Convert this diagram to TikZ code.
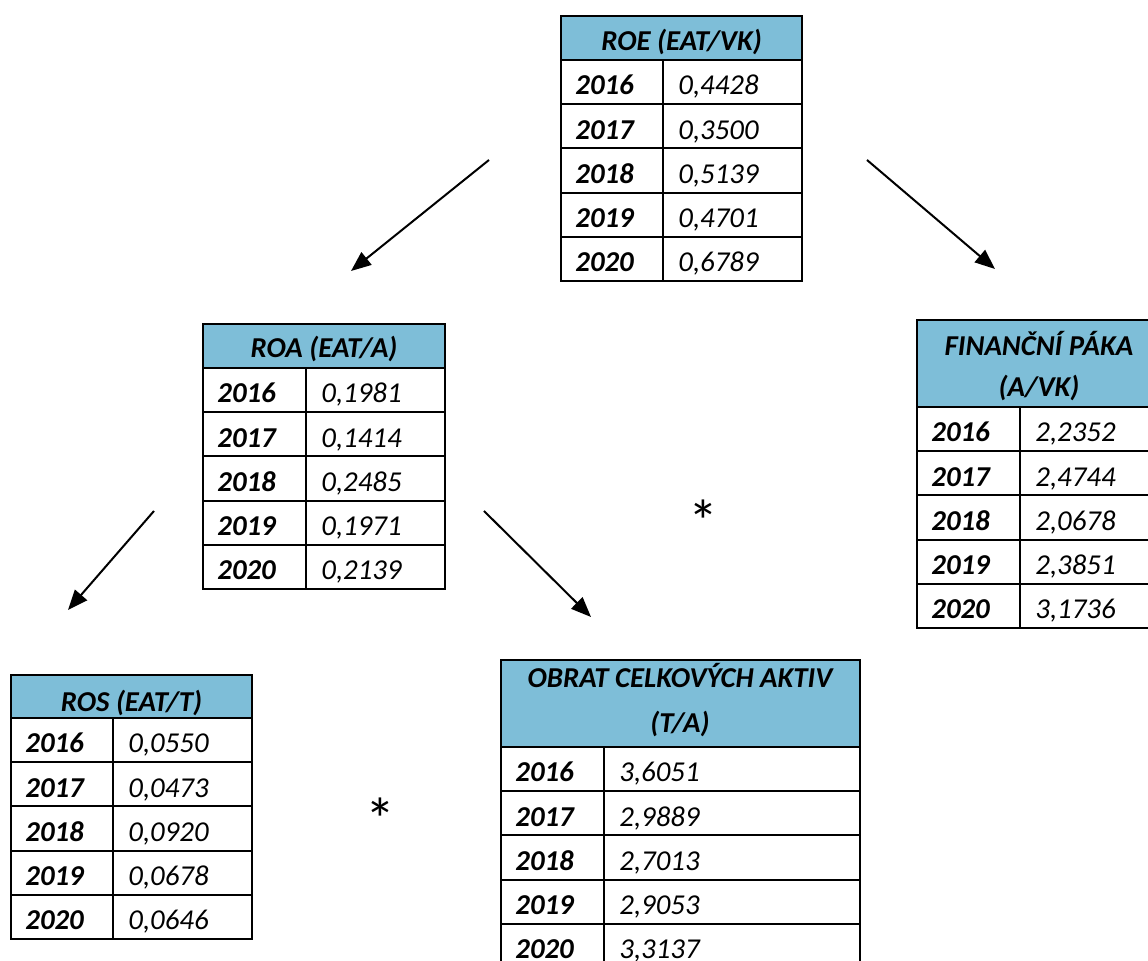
\documentclass[tikz,border=0pt]{standalone}
\usepackage{fontspec}
\setmainfont{Carlito}
\usetikzlibrary{arrows.meta,fit}
\definecolor{hdrblue}{RGB}{126,190,216}
\newcommand{\cellfont}{\fontsize{14.4pt}{17pt}\selectfont}
\tikzset{
  gridline/.style={line width=1pt, black},
  frame/.style={draw, line width=1pt, inner sep=0pt, rectangle},
  yr/.style={anchor=base west, inner sep=0pt, font=\cellfont\bfseries\itshape},
  val/.style={anchor=base west, inner sep=0pt, font=\cellfont\itshape},
  hdr/.style={anchor=base, inner sep=0pt, font=\cellfont\bfseries\itshape},
  arr/.style={line width=1pt, -{Triangle[length=10pt,width=8pt]}},
  asterisk/.style={inner sep=0pt, font=\fontsize{30pt}{32pt}\selectfont}
}
% #1 name, #2 left, #3 top, #4 right, #5 divider, #6 header bottom
\newcommand{\mktable}[6]{%
  \def\tN{#1}\def\tL{#2}\def\tD{#5}\def\tH{#6}%
  \fill[hdrblue] (#2,#3) rectangle (#4,#6);
  \foreach \i in {0,...,4} \draw[gridline] (#2,#6+\i*44.2) -- (#4,#6+\i*44.2);
  \draw[gridline] (#5,#6) -- (#5,#6+5*44.2);
  \coordinate (#1-nw) at (#2,#3);
  \coordinate (#1-se) at (#4,#6+5*44.2);
  \node[frame, fit=(#1-nw)(#1-se)] (#1) {};
}
\newcommand{\vals}[5]{%
  \node[yr]  (\tN-y0) at (\tL+14,\tH+35) {2016};
  \node[val] (\tN-v0) at (\tD+15,\tH+35) {#1};
  \node[yr]  (\tN-y1) at (\tL+14,\tH+35+44.2) {2017};
  \node[val] (\tN-v1) at (\tD+15,\tH+35+44.2) {#2};
  \node[yr]  (\tN-y2) at (\tL+14,\tH+35+2*44.2) {2018};
  \node[val] (\tN-v2) at (\tD+15,\tH+35+2*44.2) {#3};
  \node[yr]  (\tN-y3) at (\tL+14,\tH+35+3*44.2) {2019};
  \node[val] (\tN-v3) at (\tD+15,\tH+35+3*44.2) {#4};
  \node[yr]  (\tN-y4) at (\tL+14,\tH+35+4*44.2) {2020};
  \node[val] (\tN-v4) at (\tD+15,\tH+35+4*44.2) {#5};
}
\begin{document}
\begin{tikzpicture}[x=0.5pt,y=-0.5pt]
\useasboundingbox (0,0) rectangle (1148,961);
\clip (0,0) rectangle (1148,961);
\fill[white] (0,0) rectangle (1148,961);

% ROE
\mktable{roe}{561}{16}{802}{663}{60}
\node[hdr] (roe-h) at (681.5,51) {ROE (EAT/VK)};
\vals{0,4428}{0,3500}{0,5139}{0,4701}{0,6789}

% ROA
\mktable{roa}{203}{324}{445}{306}{368}
\node[hdr] (roa-h) at (324,358) {ROA (EAT/A)};
\vals{0,1981}{0,1414}{0,2485}{0,1971}{0,2139}

% Financni paka
\mktable{fp}{917}{320}{1161}{1020}{407}
\node[hdr] (fp-h1) at (1039,356) {FINANČNÍ PÁKA};
\node[hdr] (fp-h2) at (1039,397) {(A/VK)};
\vals{2,2352}{2,4744}{2,0678}{2,3851}{3,1736}

% ROS
\mktable{ros}{11}{675}{252}{113}{718}
\node[hdr] (ros-h) at (131.5,712) {ROS (EAT/T)};
\vals{0,0550}{0,0473}{0,0920}{0,0678}{0,0646}

% Obrat celkovych aktiv
\mktable{oca}{501}{660}{860}{604}{747}
\node[hdr] (oca-h1) at (680,688) {OBRAT CELKOVÝCH AKTIV};
\node[hdr] (oca-h2) at (680,733) {(T/A)};
\vals{3,6051}{2,9889}{2,7013}{2,9053}{3,3137}

% arrows
\coordinate (a1s) at (489,160); \coordinate (a1e) at (351,271);
\coordinate (a2s) at (867,160); \coordinate (a2e) at (995,269);
\coordinate (a3s) at (154,511); \coordinate (a3e) at (68,610);
\coordinate (a4s) at (484,511); \coordinate (a4e) at (591,617);
\draw[arr] (a1s) -- (a1e);
\draw[arr] (a2s) -- (a2e);
\draw[arr] (a3s) -- (a3e);
\draw[arr] (a4s) -- (a4e);

% multiplication signs
\node[asterisk] (ast1) at (703,521) {*};
\node[asterisk] (ast2) at (380,819) {*};
\end{tikzpicture}
\end{document}
